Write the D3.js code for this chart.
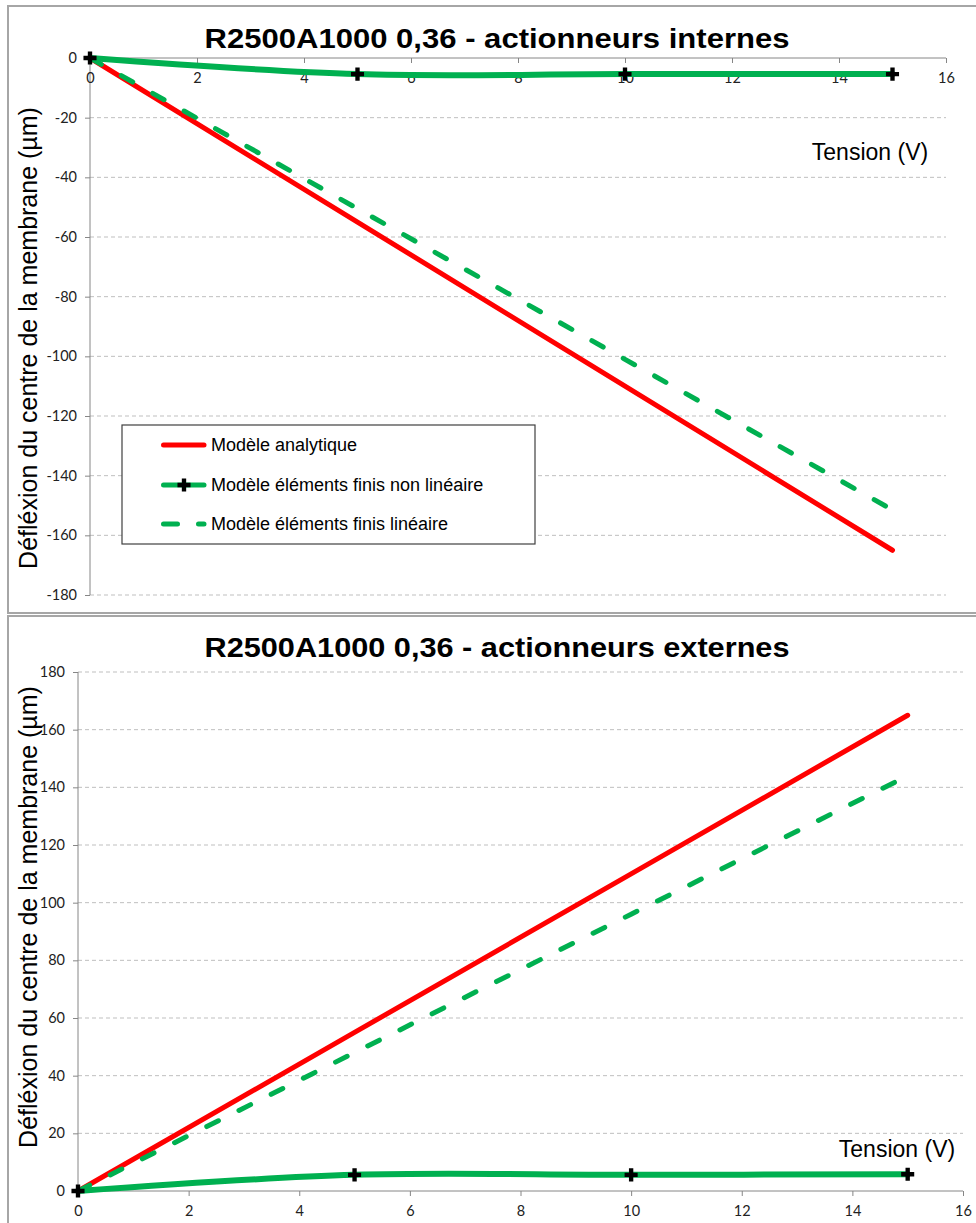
<!DOCTYPE html>
<html><head><meta charset="utf-8">
<script src="https://cdn.jsdelivr.net/npm/d3@7"></script>
<style>body{margin:0;background:#fff}svg{display:block}</style>
</head><body>
<script>
// ---- data ----
const tension = [0, 5, 10, 15];
const titleInternes = "R2500A1000  0,36 - actionneurs internes";
const titleExternes = "R2500A1000  0,36 - actionneurs externes";
const yLabel = "Défléxion du centre de la membrane (µm)";
const xLabel = "Tension (V)";
const legendLabels = ["Modèle analytique", "Modèle éléments finis non linéaire", "Modèle éléments finis linéaire"];
// internes
const analytiqueInt = [0, -55, -110, -165];
const nonLinInt = [0, -5.4, -5.4, -5.4];
const linInt = [0, -50.5, -101, -151.5];
// externes
const analytiqueExt = [0, 55, 110, 165];
const nonLinExt = [0, 5.6, 5.6, 5.8];
const linExt = [0, 48, 96, 144];
const xTicks = [0, 2, 4, 6, 8, 10, 12, 14, 16];
const yTicksInt = [0, -20, -40, -60, -80, -100, -120, -140, -160, -180];
const yTicksExt = [0, 20, 40, 60, 80, 100, 120, 140, 160, 180];

const W = 976, H = 1223;
const svg = d3.select("body").append("svg").attr("width", W).attr("height", H);
const RED = "#ff0000", GREEN = "#00b050";
const tickFont = "Lato, 'Open Sans', sans-serif";
const mainFont = "'Liberation Sans', Arial, sans-serif";

// panel frames
svg.append("rect").attr("x", 8).attr("y", 6).attr("width", 980).attr("height", 607)
  .attr("fill", "#fff").attr("stroke", "#a6a6a6").attr("stroke-width", 2);
svg.append("rect").attr("x", 8).attr("y", 616).attr("width", 980).attr("height", 620)
  .attr("fill", "#fff").attr("stroke", "#a6a6a6").attr("stroke-width", 2);

function panel(cfg) {
  const g = svg.append("g");
  const x = d3.scaleLinear().domain([0, 16]).range(cfg.xr);
  const y = d3.scaleLinear().domain(cfg.yd).range(cfg.yr);
  const y0 = y(0);
  // gridlines
  g.append("g").selectAll("line").data(cfg.yTicks.filter(d => d !== 0)).join("line")
    .attr("x1", cfg.xr[0]).attr("x2", x(16)).attr("y1", d => y(d)).attr("y2", d => y(d))
    .attr("stroke", "#bfbfbf").attr("stroke-width", 1).attr("stroke-dasharray", "4,3");
  // y axis
  const ya = g.append("g").attr("transform", `translate(${cfg.xr[0]},0)`)
    .call(d3.axisLeft(y).tickValues(cfg.yTicks).tickSize(5).tickPadding(8).tickFormat(d3.format("d")));
  ya.selectAll("path,line").attr("stroke", "#868686");
  ya.select(".domain").attr("d", `M0,${d3.min(cfg.yr)}V${d3.max(cfg.yr)}`);
  ya.selectAll("text").attr("font-family", tickFont).attr("font-size", 14.5).attr("fill", "#222")
    .text(d => d3.format("d")(d).replace("−", "-"));
  // x axis at y=0
  const xa = g.append("g").attr("transform", `translate(0,${y0})`)
    .call(d3.axisBottom(x).tickValues(xTicks).tickSize(5).tickPadding(10).tickFormat(d3.format("d")));
  xa.selectAll("path,line").attr("stroke", "#868686");
  xa.select(".domain").attr("d", `M${cfg.xr[0]},0H${x(16)}`);
  xa.selectAll("text").attr("font-family", tickFont).attr("font-size", 14.5).attr("fill", "#222");

  // series
  const line = d3.line().x((d, i) => x(tension[i])).y(d => y(d));
  const smooth = d3.line().x((d, i) => x(tension[i])).y(d => y(d)).curve(d3.curveCardinal.tension(0));
  g.append("path").attr("d", line(cfg.analytique)).attr("fill", "none")
    .attr("stroke", RED).attr("stroke-width", 5).attr("stroke-linecap", "round");
  g.append("path").attr("d", line(cfg.lin)).attr("fill", "none")
    .attr("stroke", GREEN).attr("stroke-width", 5).attr("stroke-linecap", "round")
    .attr("stroke-dasharray", "13,23");
  g.append("path").attr("d", smooth(cfg.nonLin)).attr("fill", "none")
    .attr("stroke", GREEN).attr("stroke-width", 6).attr("stroke-linecap", "round");
  g.append("g").selectAll("path").data(cfg.nonLin).join("path")
    .attr("transform", (d, i) => `translate(${x(tension[i])},${y(d)})`)
    .attr("d", d3.symbol(d3.symbolCross, 95)).attr("fill", "#000");

  // title
  svg.append("text").attr("x", 497).attr("y", cfg.titleY).attr("text-anchor", "middle")
    .attr("font-family", mainFont).attr("font-weight", "bold").attr("font-size", 27)
    .attr("textLength", 585).attr("lengthAdjust", "spacingAndGlyphs")
    .attr("fill", "#000").text(cfg.title);
  // y label
  svg.append("text").attr("transform", `translate(37,${cfg.yLabelC}) rotate(-90)`)
    .attr("text-anchor", "middle").attr("font-family", mainFont).attr("font-size", 25)
    .attr("fill", "#000").text(yLabel);
  // x label
  svg.append("text").attr("x", cfg.xLabelPos[0]).attr("y", cfg.xLabelPos[1]).attr("text-anchor", "middle")
    .attr("font-family", mainFont).attr("font-size", 23).attr("fill", "#000").text(xLabel);
  return {x, y};
}

panel({xr: [90, 946], yd: [-180, 0], yr: [595, 58], yTicks: yTicksInt,
  analytique: analytiqueInt, lin: linInt, nonLin: nonLinInt, title: titleInternes, titleY: 48,
  yLabelC: 338, xLabelPos: [870, 160]});
panel({xr: [78, 963], yd: [0, 180], yr: [1191, 672], yTicks: yTicksExt,
  analytique: analytiqueExt, lin: linExt, nonLin: nonLinExt, title: titleExternes, titleY: 657,
  yLabelC: 917, xLabelPos: [897, 1157]});

// legend (top chart)
const lg = svg.append("g");
lg.append("rect").attr("x", 122).attr("y", 425).attr("width", 413).attr("height", 119)
  .attr("fill", "#fff").attr("stroke", "#404040").attr("stroke-width", 1.2);
const rowsY = [445, 485, 524];
const legendStyles = [
  {c: RED, dash: null, m: false},
  {c: GREEN, dash: null, m: true},
  {c: GREEN, dash: "14,21", m: false}];
legendStyles.forEach((s, i) => {
  const ry = rowsY[i];
  lg.append("line").attr("x1", 163.5).attr("x2", 204).attr("y1", ry).attr("y2", ry)
    .attr("stroke", s.c).attr("stroke-width", 5).attr("stroke-linecap", "round")
    .attr("stroke-dasharray", s.dash);
  if (s.m) lg.append("path").attr("transform", `translate(184,${ry})`)
    .attr("d", d3.symbol(d3.symbolCross, 95)).attr("fill", "#000");
  lg.append("text").attr("x", 211).attr("y", ry + 6).attr("font-family", mainFont)
    .attr("font-size", 18).attr("fill", "#000").text(legendLabels[i]);
});
</script>
</body></html>
